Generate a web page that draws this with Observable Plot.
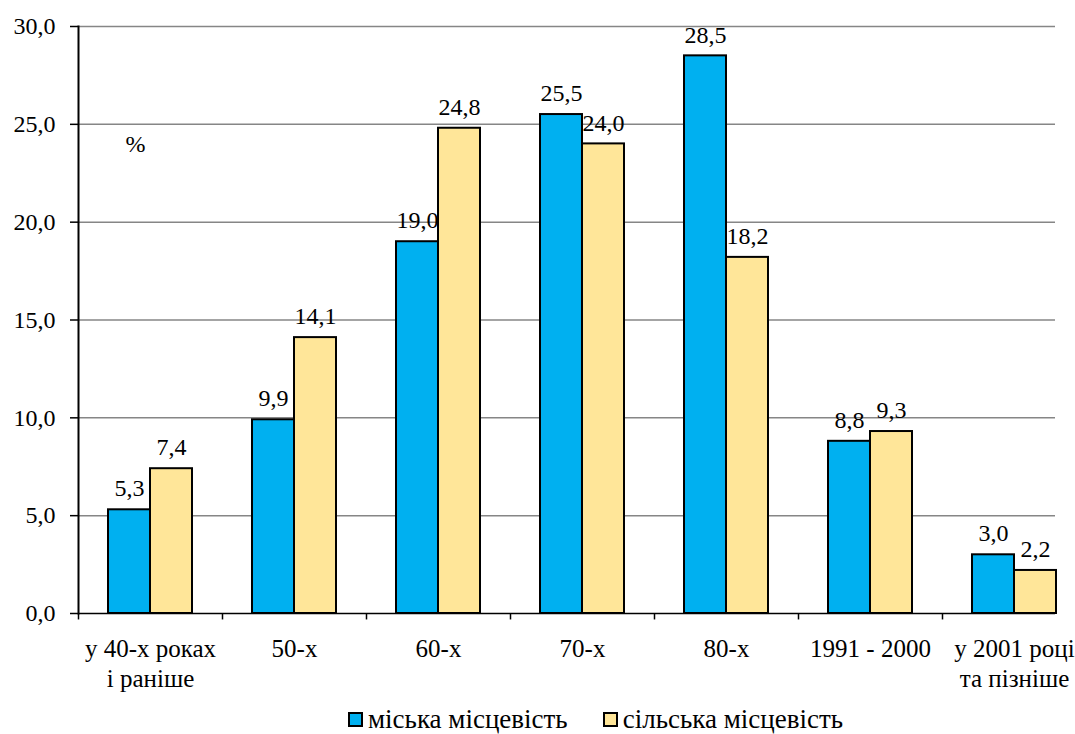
<!DOCTYPE html>
<html>
<head>
<meta charset="utf-8">
<script src="https://cdn.jsdelivr.net/npm/d3@7"></script>
<script src="https://cdn.jsdelivr.net/npm/@observablehq/plot@0.6"></script>
<style>
  html, body { margin: 0; padding: 0; background: white; }
  #chart { width: 1075px; overflow: hidden; }
  #chart svg text { font-family: "Liberation Serif", "Times New Roman", Times, serif; }
  .legend { display: flex; align-items: center; height: 34px; margin-top: 2px; margin-left: 348px;
            font-family: "Liberation Serif", "Times New Roman", Times, serif; font-size: 27px; color: black; }
  .legend .item { display: flex; align-items: center; margin-right: 35px; }
  .legend .sw { width: 11px; height: 11px; border: 2px solid black; margin-right: 5px; }
</style>
</head>
<body>
<div id="chart"></div>
<script>
const categories = ["у 40-х роках\nі раніше", "50-х", "60-х", "70-х", "80-х", "1991 - 2000", "у 2001 році\nта пізніше"];
const urban = [5.3, 9.9, 19.0, 25.5, 28.5, 8.8, 3.0];
const rural = [7.4, 14.1, 24.8, 24.0, 18.2, 9.3, 2.2];
const seriesNames = ["міська місцевість", "сільська місцевість"];
const seriesColors = ["#00B0F0", "#FFE699"];
const yTicks = [0, 5, 10, 15, 20, 25, 30];
const unitLabel = "%";

const fmt = d => d.toFixed(1).replace(".", ",");
const urbanData = urban.map((v, i) => ({c: categories[i], v}));
const ruralData = rural.map((v, i) => ({c: categories[i], v}));
const FONT = "'Liberation Serif', 'Times New Roman', Times, serif";

const chart = Plot.plot({
  width: 1075,
  height: 700,
  marginLeft: 78,
  marginTop: 26,
  marginBottom: 87,
  style: {fontFamily: FONT, fontSize: "24px", color: "black", background: "white"},
  x: {domain: categories, range: [78, 1086], paddingInner: 60 / 144, paddingOuter: 30 / 144, axis: null},
  y: {domain: [0, 30], axis: null},
  marks: [
    Plot.ruleY(yTicks.filter(d => d > 0), {stroke: "#868686", strokeWidth: 1.5}),
    Plot.axisY({ticks: yTicks, tickFormat: fmt, tickSize: 8, tickPadding: 15, fontSize: 24, strokeWidth: 1.5, label: null}),
    Plot.axisX({tickSize: 0, tickPadding: 22, fontSize: 25, lineHeight: 1.2, label: null}),
    Plot.ruleX(categories, {x: d => d, dx: -72, y1: 0, y2: -0.33, stroke: "black", strokeWidth: 1.5}),
    Plot.barY(urbanData, {x: "c", y: "v", fill: seriesColors[0], stroke: "black", strokeWidth: 2, insetRight: 42}),
    Plot.barY(ruralData, {x: "c", y: "v", fill: seriesColors[1], stroke: "black", strokeWidth: 2, insetLeft: 42}),
    Plot.text(urbanData, {x: "c", y: "v", text: d => fmt(d.v), dx: -21, dy: -21, lineAnchor: "middle", fontSize: 24}),
    Plot.text(ruralData, {x: "c", y: "v", text: d => fmt(d.v), dx: 21, dy: -21, lineAnchor: "middle", fontSize: 24}),
    Plot.text([{c: categories[0], v: 24}], {x: "c", y: "v", text: () => unitLabel, dx: -15, fontSize: 24}),
    Plot.ruleY([0], {stroke: "black", strokeWidth: 1.5}),
    Plot.frame({anchor: "left", stroke: "black", strokeWidth: 2})
  ]
});
d3.select(chart).selectAll("text").style("font-family", FONT);
document.getElementById("chart").appendChild(chart);

const legend = document.createElement("div");
legend.className = "legend";
seriesNames.forEach((name, i) => {
  const item = document.createElement("div");
  item.className = "item";
  const sw = document.createElement("div");
  sw.className = "sw";
  sw.style.background = seriesColors[i];
  const label = document.createElement("span");
  label.textContent = name;
  item.appendChild(sw);
  item.appendChild(label);
  legend.appendChild(item);
});
document.getElementById("chart").appendChild(legend);
</script>
</body>
</html>
